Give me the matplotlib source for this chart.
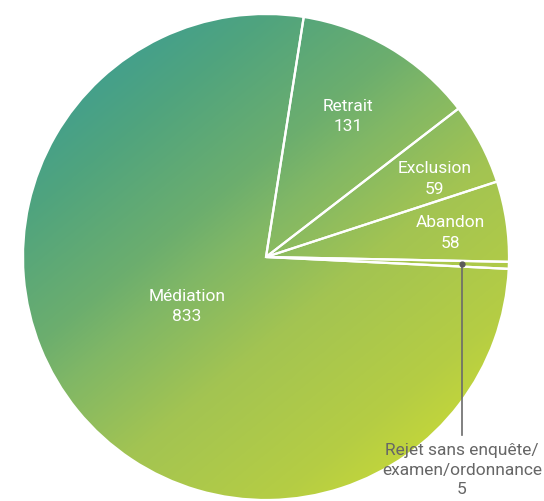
import numpy as np
import matplotlib
matplotlib.use("Agg")
import matplotlib.pyplot as plt
from matplotlib.colors import LinearSegmentedColormap, to_rgb
from matplotlib.patches import Circle

# Outcomes of closed cases
categories = ["Rejet sans enquête/\nexamen/ordonnance", "Abandon", "Exclusion", "Retrait", "Médiation"]
values = [5, 58, 59, 131, 833]

W, H = 544, 501
fig = plt.figure(figsize=(W / 100, H / 100), dpi=100)
ax = fig.add_axes([0, 0, 1, 1])

cx, cy, R = 266, 244, 243

wedges, _ = ax.pie(values, startangle=-2.8, counterclock=True, radius=R,
                   center=(cx, cy), frame=True,
                   wedgeprops=dict(facecolor="none", edgecolor="white", linewidth=1.6))
ax.set_xlim(0, W)
ax.set_ylim(0, H)
ax.set_aspect("equal")
ax.axis("off")

# Diagonal gradient, teal at the upper left to lime at the lower right
stops = [(40, "#36978f"), (90, "#45a08a"), (130, "#50a47e"), (206, "#6cae6e"),
         (240, "#80b766"), (310, "#a3c452"), (400, "#b5cd44"), (470, "#cddd34")]
tmin, tmax = stops[0][0], stops[-1][0]
cmap = LinearSegmentedColormap.from_list(
    "g", [((t - tmin) / (tmax - tmin), to_rgb(c)) for t, c in stops])
n = 500
gx = np.linspace(cx - R, cx + R, n)
gy = np.linspace(cy - R, cy + R, n)
X, Y = np.meshgrid(gx, gy)
T = 0.45 * X + 0.55 * (H - Y)
img = cmap(np.clip((T - tmin) / (tmax - tmin), 0, 1))
im = ax.imshow(img, extent=(cx - R, cx + R, cy - R, cy + R), origin="lower",
               zorder=0, interpolation="bilinear")
disc = Circle((cx, cy), R, transform=ax.transData, facecolor="none", edgecolor="none")
ax.add_patch(disc)
im.set_clip_path(disc)
for w in wedges:
    w.set_zorder(2)

font = "Roboto"
# label placement in polar terms: (fraction of radius, angle in degrees)
label_pos = {
    "Retrait": (0.67, 59.8),
    "Exclusion": (0.765, 24.8),
    "Abandon": (0.765, 7.4),
    "Médiation": (0.385, 212.0),
}
for cat, v in zip(categories, values):
    if cat in label_pos:
        f, a = label_pos[cat]
        a = np.deg2rad(a)
        ax.text(cx + f * R * np.cos(a), cy + f * R * np.sin(a), f"{cat}\n{v}",
                ha="center", va="center", color="white", fontsize=12.5,
                family=font, linespacing=1.45, zorder=3)

# Callout for the smallest slice
w0 = wedges[0]
ang = np.deg2rad((w0.theta1 + w0.theta2) / 2)
px = cx + 0.807 * R * np.cos(ang)
py = cy + 0.807 * R * np.sin(ang)
ax.plot([px, px], [py, 66], color="#6b6b6b", lw=1.2, zorder=4)
ax.plot(px, py, "o", color="#5a5a5a", ms=3.5, zorder=5)
ax.text(px, 31, f"{categories[0]}\n{values[0]}", ha="center", va="center",
        color="#666666", fontsize=12.5, family=font, linespacing=1.4, zorder=4)

fig.savefig("out.png", dpi=100)
